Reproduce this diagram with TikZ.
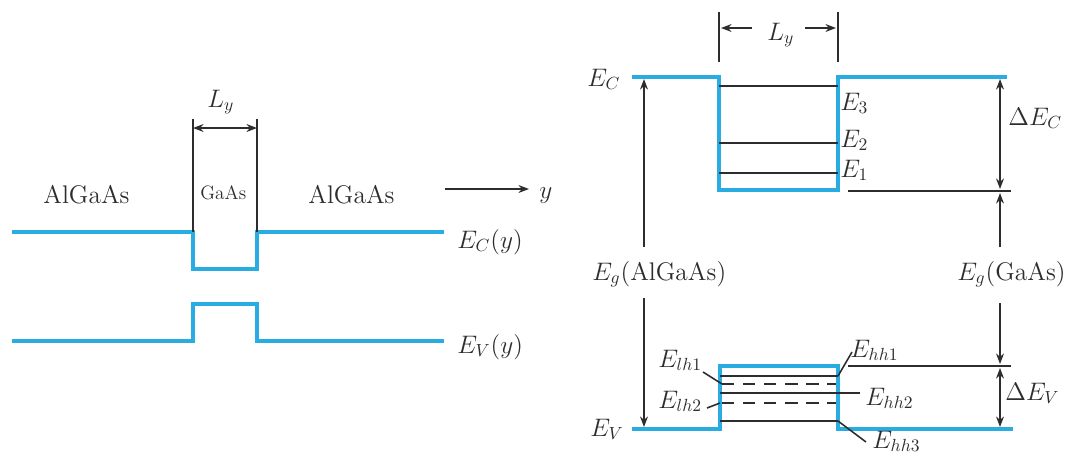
\documentclass[tikz,border=0pt]{standalone}
\usepackage{tikz}
\usetikzlibrary{arrows.meta}
\definecolor{bandblue}{RGB}{40, 172, 226}
\definecolor{inkgray}{RGB}{45, 45, 45}

\tikzset{
  band/.style    = {draw = bandblue, line width = 2.3pt},
  level/.style   = {draw = inkgray, line width = 0.9pt},
  holelevel/.style = {level, dash pattern = on 7pt off 5pt},
  tip/.style     = {level, -{Stealth[length = 6pt, width = 4.5pt]}},
  tipboth/.style = {level, {Stealth[length = 6pt, width = 4.5pt]}-{Stealth[length = 6pt, width = 4.5pt]}},
  lbl/.style     = {anchor = base west, inner sep = 0pt, text = inkgray,
                    font = \fontsize{14.5}{17}\selectfont},
  small/.style   = {lbl, font = \fontsize{11}{13}\selectfont}
}

\begin{document}
\begin{tikzpicture}[x = 0.02cm, y = -0.02cm]
  \useasboundingbox (0,0) rectangle (1071,468);

  % left: band edges along y
  \draw[band] (12,232) -| (193,269) -| (257,232) -- (444,232);
  \draw[band] (12,341) -| (193,304) -| (257,341) -- (444,341);

  \coordinate (wellA) at (193,119);
  \coordinate (wellB) at (257,119);
  \coordinate (wellAb) at (193,232);
  \coordinate (wellBb) at (257,232);
  \draw[level] (wellA) -- (wellAb);
  \draw[level] (wellB) -- (wellBb);
  \draw[tipboth] ([yshift = -0.18cm]wellA) -- ([yshift = -0.18cm]wellB);

  \node[lbl]   (lyA)     at (207,107) {$L_y$};
  \node[small] (gaas)    at (200,199) {GaAs};
  \node[lbl]   (algaasA) at (43,203)  {AlGaAs};
  \node[lbl]   (algaasB) at (308,203) {AlGaAs};
  \node[lbl]   (yaxis)   at (539,198) {$y$};
  \coordinate (yfrom) at (445,189);
  \coordinate (yto)   at (529,189);
  \draw[tip] (yfrom) -- (yto);
  \node[lbl]   (ecy)     at (457,248) {$E_C(y)$};
  \node[lbl]   (evy)     at (457,353) {$E_V(y)$};

  % right: quantum well levels
  \draw[band] (632,77) -| (719,190) -| (838,77) -- (1007,77);
  \draw[band] (632,429) -| (720,366) -| (838,429) -- (1013,429);

  \draw[level] (719,86)  -- (838,86);
  \draw[level] (719,143) -- (838,143);
  \draw[level] (719,173) -- (838,173);
  \node[lbl] (eC) at (587,86)  {$E_C$};
  \node[lbl] (e3) at (840,110) {$E_3$};
  \node[lbl] (e2) at (840,147) {$E_2$};
  \node[lbl] (e1) at (840,177) {$E_1$};

  \draw[level] (720,376) -- (838,376);
  \draw[holelevel] (722,384) -- (836,384);
  \draw[level] (720,393) -- (860,393);
  \draw[holelevel] (722,403) -- (836,403);
  \draw[level] (720,421) -- (838,421);

  \node[lbl] (hh1) at (850,357) {$E_{hh1}$};
  \node[lbl] (lh1) at (658,367) {$E_{lh1}$};
  \node[lbl] (hh2) at (865,405) {$E_{hh2}$};
  \node[lbl] (lh2) at (658,408) {$E_{lh2}$};
  \node[lbl] (hh3) at (872,448) {$E_{hh3}$};
  \node[lbl] (eV)  at (590,436) {$E_V$};

  \coordinate (lh1end) at (703,372);
  \coordinate (lh2end) at (707,408);
  \coordinate (hh1end) at (852,352);
  \coordinate (hh3end) at (866,442);
  \draw[level] (lh1end) -- (722,384);
  \draw[level] (lh2end) -- (720,403);
  \draw[level] (838,376) -- (hh1end);
  \draw[level] (838,421) -- (hh3end);

  % L_y on top
  \coordinate (topA) at (719,12);
  \coordinate (topB) at (838,12);
  \draw[level] (topA) -- (719,62);
  \draw[level] (topB) -- (838,62);
  \node[lbl] (lyB) at (767,40) {$L_y$};
  \draw[tip] (752,28) -- (721,28);
  \draw[tip] (805,28) -- (836,28);

  % band gaps
  \node[lbl] (egA) at (592,280) {$E_g$(AlGaAs)};
  \node[lbl] (egB) at (957,280) {$E_g$(GaAs)};
  \coordinate (gapA1) at (644,79);
  \coordinate (gapA2) at (644,427);
  \draw[tip] (644,247) -- (gapA1);
  \draw[tip] (644,298) -- (gapA2);

  \coordinate (cbot) at (1000,191);
  \coordinate (vtop) at (1000,366);
  \draw[level] (848,191) -- (1011,191);
  \draw[level] (848,366) -- (1011,366);
  \draw[tipboth] (1000,79) -- (1000,189);
  \draw[tip] (1000,247) -- (1000,193);
  \draw[tip] (1000,303) -- (1000,364);
  \draw[tipboth] (1000,368) -- (1000,427);
  \node[lbl] (dEC) at (1008,125) {$\Delta E_C$};
  \node[lbl] (dEV) at (1005,400) {$\Delta E_V$};
\end{tikzpicture}
\end{document}
